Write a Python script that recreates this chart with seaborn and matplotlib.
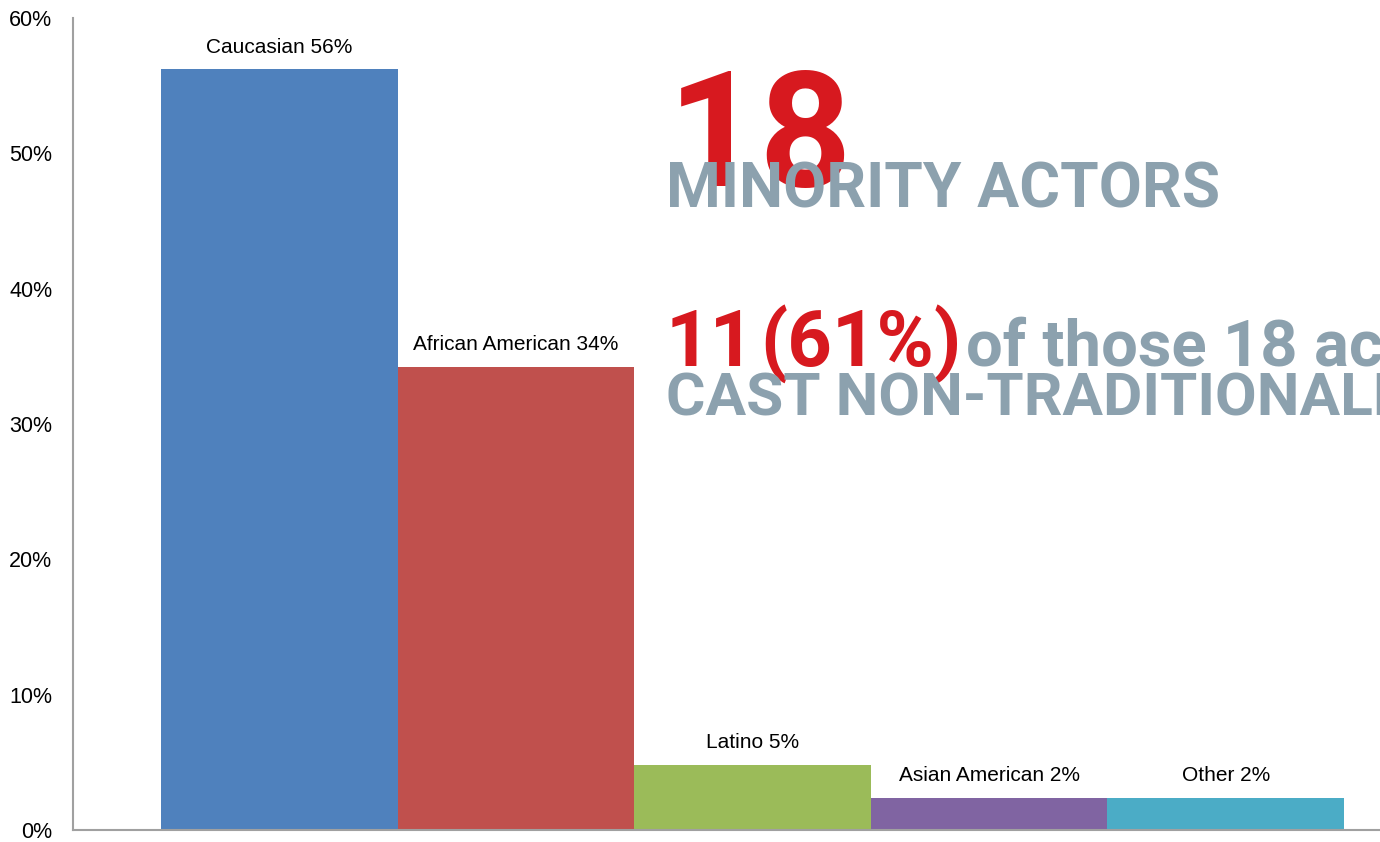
import numpy as np
import pandas as pd
import seaborn as sns
import matplotlib.pyplot as plt

# data
groups = ["Caucasian", "African American", "Latino", "Asian American", "Other"]
shares = [56.2, 34.2, 4.8, 2.4, 2.4]
bar_labels = ["Caucasian 56%", "African American 34%", "Latino 5%", "Asian American 2%", "Other 2%"]
colors = ["#4F81BD", "#C0504D", "#9BBB59", "#8064A2", "#4BACC6"]
yticks = [0, 10, 20, 30, 40, 50, 60]

df = pd.DataFrame({"group": groups, "share": shares})

sns.set_style("white")
plt.rcParams["font.family"] = ["Liberation Sans", "DejaVu Sans"]

W, H = 1380, 842
fig = plt.figure(figsize=(W / 100, H / 100), dpi=100)
ax = fig.add_axes([73 / W, 1 - 830 / H, 1 - 73 / W, (830 - 18) / H])

sns.barplot(data=df, x="group", y="share", hue="group", palette=colors,
            width=1.0, saturation=1, legend=False, linewidth=0, ax=ax)

ax.set_ylim(0, 60)
ax.set_xlim(-0.872, 4.652)
ax.set_yticks(yticks)
ax.set_yticklabels([f"{t}%" for t in yticks], fontsize=15.5, color="black")
ax.set_xticks([])
ax.set_xlabel("")
ax.set_ylabel("")
ax.tick_params(axis="y", length=0, pad=15)
for s in ["top", "right"]:
    ax.spines[s].set_visible(False)
for s in ["left", "bottom"]:
    ax.spines[s].set_color("#A0A0A0")
    ax.spines[s].set_linewidth(1.5)

for i, (v, lab) in enumerate(zip(shares, bar_labels)):
    ax.annotate(lab, (i, v), xytext=(0, 16), textcoords="offset points",
                ha="center", va="center", fontsize=15, color="black")

# headline callout
red = "#D7191F"
grey = "#8CA1AE"
big = ["Roboto", "DejaVu Sans"]

def px(x, y):
    return x / W, 1 - y / H

fig.text(*px(668, 186), "18", family=big, weight="bold", fontsize=116,
         color=red, ha="left", va="baseline")
fig.text(*px(666, 208), "MINORITY ACTORS", family=big, weight="bold", fontsize=45,
         color=grey, ha="left", va="baseline")
fig.text(*px(666, 366), "11", family=big, weight="bold", fontsize=56,
         color=red, ha="left", va="baseline")
fig.text(*px(760, 366), "(61%)", family=big, weight="bold", fontsize=56,
         color=red, ha="left", va="baseline")
fig.text(*px(966, 366), "of those 18 actors", family=big, weight="bold", fontsize=47,
         color=grey, ha="left", va="baseline")
fig.text(*px(666, 415), "CAST NON-TRADITIONALLY", family=big, weight="bold", fontsize=43.5,
         color=grey, ha="left", va="baseline")

fig.savefig("out.png", dpi=100)
